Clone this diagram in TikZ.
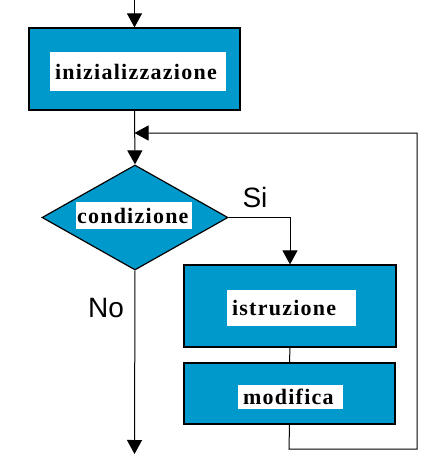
\documentclass[tikz,border=0pt]{standalone}
\usepackage{fontspec}
\setmainfont{Liberation Serif}
\newfontfamily\lblfont[LetterSpace=5.7]{Liberation Serif}
\newfontfamily\arialfont{Liberation Sans}
\usetikzlibrary{shapes.geometric,arrows.meta}
\definecolor{flowblue}{RGB}{0,153,204}
\tikzset{
  blk/.style={draw=black, line width=1.2pt, fill=flowblue, inner sep=0pt},
  lbl/.style={fill=white, inner sep=0pt, font=\lblfont\bfseries\fontsize{22}{24}\selectfont, align=left},
  cond/.style={diamond, draw=black, line width=1.2pt, fill=flowblue, inner sep=0pt},
  conn/.style={draw=black, line width=1pt},
  arr/.style={conn, -{Triangle[width=15pt,length=14pt]}},
  yn/.style={font=\arialfont\fontsize{28}{30}\selectfont, inner sep=0pt}
}
\begin{document}
\begin{tikzpicture}[x=1pt,y=-1pt]
\useasboundingbox (0,0) rectangle (432,464);
% blocks
\node[blk, minimum width=211pt, minimum height=82pt] (init) at (134.5,69) {};
\node[lbl, minimum height=39pt, text width=166pt, inner xsep=5pt] (initl) at (138,71.5) {inizializzazione};
\node[cond, minimum width=186pt, minimum height=105pt] (cnd) at (135,217.5) {};
\node[lbl, minimum height=27pt, text width=114pt, inner xsep=1pt] (cndl) at (134,215.5) {condizione};
\node[blk, minimum width=212pt, minimum height=82pt] (istr) at (290,306) {};
\node[lbl, minimum height=36pt, text width=119pt, inner xsep=5pt] (istrl) at (291.5,308) {istruzione};
\node[blk, minimum width=211pt, minimum height=61pt] (modi) at (289.5,393.5) {};
\node[lbl, minimum height=24pt, text width=95pt, inner xsep=5pt] (modil) at (290.5,397) {modifica};
% labels
\node[yn] (si) at (255,197) {Si};
\node[yn] (no) at (106,308) {No};
% coordinates
\coordinate (top) at (134.5,0);
\coordinate (fbB) at (289,449);
\coordinate (fbR) at (417,449);
\coordinate (fbT) at (417,133);
\coordinate (join) at (134.5,133);
\coordinate (bot) at (134.5,454);
% connectors
\draw[arr] (top) -- (init.north);
\draw[arr] (init.south) -- (cnd.north);
\draw[arr] (cnd.east) -| (istr.north);
\draw[conn] (istr.south) -- (modi.north);
\draw[arr] (modi.south) -- (fbB) -- (fbR) -- (fbT) -- (join);
\draw[arr] (cnd.south) -- (bot);
\end{tikzpicture}
\end{document}
